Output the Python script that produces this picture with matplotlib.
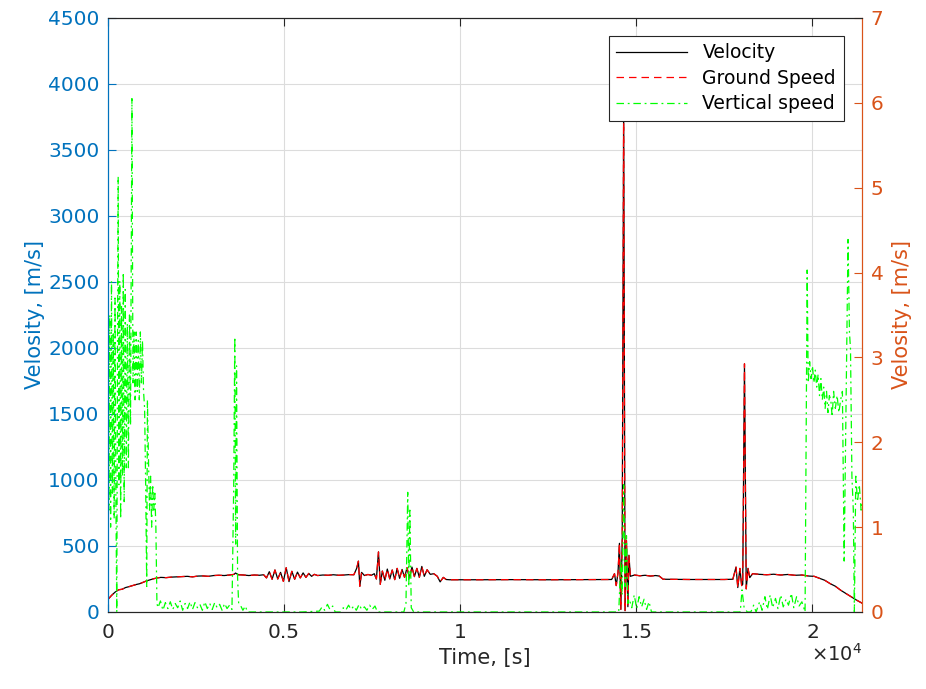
import matplotlib
matplotlib.use("Agg")
import matplotlib.pyplot as plt
from matplotlib.ticker import FuncFormatter

# Velocity / ground speed readings, left axis [m/s]
t_vel = [0, 100, 200, 300, 400, 500, 600, 700, 800, 900, 1000, 1100, 1200, 1300,
         1400, 1500, 1650, 1800, 1950, 2100, 2250, 2400, 2550, 2700, 2850, 3000,
         3150, 3300, 3450, 3580, 3620, 3700, 3850, 4000, 4150, 4300, 4420, 4500,
         4580, 4660, 4740, 4820, 4900, 4980, 5060, 5140, 5220, 5300, 5380, 5460,
         5540, 5620, 5700, 5780, 5860, 5950, 6100, 6250, 6400, 6550, 6700, 6850,
         6980, 7060, 7110, 7150, 7200, 7280, 7380, 7480, 7560, 7620, 7680, 7730,
         7790, 7860, 7930, 8000, 8070, 8140, 8210, 8280, 8350, 8420, 8490, 8560,
         8630, 8700, 8770, 8840, 8910, 8980, 9060, 9150, 9250, 9350, 9430, 9520,
         9600, 9700, 10500, 11500, 12500, 13500, 14300, 14380, 14430, 14480,
         14520, 14560, 14600, 14640, 14680, 14720, 14760, 14790, 14830, 14950,
         15100, 15250, 15400, 15550, 15650, 15760, 16500, 17500, 17740, 17790,
         17830, 17880, 17940, 17990, 18020, 18070, 18120, 18170, 18220, 18300,
         18500, 18700, 18900, 19100, 19300, 19500, 19700, 19900, 20050, 20200,
         20350, 20500, 20650, 20800, 20950, 21100, 21250, 21420]
velocity = [95, 125, 150, 168, 172, 185, 192, 200, 208, 214, 225, 236, 244, 252,
            258, 262, 260, 264, 266, 268, 270, 266, 272, 273, 270, 276,
            278, 276, 280, 285, 295, 282, 280, 276, 280, 278, 282, 258,
            305, 248, 318, 250, 300, 232, 335, 230, 308, 248, 302, 258,
            296, 262, 292, 270, 285, 276, 280, 278, 282, 278, 280, 283,
            282, 330, 385, 195, 300, 276, 284, 278, 290, 250, 455, 210,
            310, 240, 325, 250, 318, 245, 330, 255, 322, 262, 335, 258,
            340, 268, 330, 262, 345, 270, 320, 285, 290, 270, 228, 262,
            246, 244, 244, 245, 244, 245, 246, 290, 200, 300,
            520, 20, 560, 3850, 10, 540, 40, 430, 270, 280,
            274, 278, 272, 276, 272, 248, 246, 246, 248, 300,
            340, 185, 330, 200, 210, 1880, 175, 330, 260, 290,
            285, 282, 286, 280, 284, 278, 280, 272, 270, 255,
            240, 215, 195, 165, 140, 115, 90, 65]
# ground speed coincides with velocity at this scale
ground_speed = list(velocity)

# Vertical speed readings, right axis [m/s]
t_vs = [0, 25, 50, 75, 100, 125, 150, 175, 200, 225, 250, 270, 290, 310, 335,
        360, 385, 410, 435, 460, 490, 520, 550, 580, 610, 640, 680, 710, 740,
        770, 800, 830, 860, 890, 920, 950, 980, 1010, 1040, 1070, 1100, 1120,
        1150, 1180, 1210, 1240, 1270, 1300, 1330, 1360, 1390,
        1420, 1490, 1560, 1630, 1700, 1770, 1840, 1910, 1980, 2050, 2120, 2190,
        2260, 2330, 2400, 2470, 2540, 2610, 2680, 2750, 2820, 2890, 2960, 3030,
        3100, 3170, 3240, 3310, 3380, 3450, 3520,
        3570, 3600, 3625, 3650, 3680, 3710, 3760, 3830, 3900, 3960,
        4500, 5500, 6000, 6080, 6150, 6230, 6300, 6380, 6450, 6600, 6680, 6750,
        6830, 6900, 6980, 7050, 7130, 7200, 7280, 7350, 7430, 7500, 7580, 7650,
        8400, 8460, 8510, 8540, 8570, 8610, 8680,
        14500, 14560, 14600, 14640, 14680, 14720, 14760, 14800, 14870, 14940,
        15010, 15080, 15150, 15220, 15290, 15360, 15430,
        17950, 18000, 18060, 18150, 18250, 18330, 18400, 18500, 18570, 18650,
        18720, 18800, 18870, 18950, 19020, 19100, 19170, 19250, 19320, 19400,
        19470, 19550, 19620, 19700, 19790,
        19850, 19880, 19920, 19960, 20000, 20040, 20080, 20120, 20160, 20200,
        20240, 20280, 20320, 20360, 20400, 20440, 20480, 20520, 20560, 20600,
        20650, 20700, 20750, 20800, 20850, 20900, 21010, 21050, 21080, 21120,
        21160, 21190, 21230, 21280, 21330, 21380, 21420]
vertical_speed = [3.8, 1.2, 3.5, 1.0, 3.9, 1.4, 3.3, 1.1, 3.7, 1.3, 0.0, 3.0, 5.13, 1.5, 3.9,
                  1.1, 3.6, 1.6, 4.0, 1.3, 3.8, 1.7, 3.4, 1.7, 3.5, 2.2, 6.05, 2.7, 3.3,
                  2.5, 3.3, 2.6, 3.2, 2.5, 3.3, 2.7, 3.2, 2.6, 2.4, 1.5, 0.3, 2.5,
                  1.8, 1.2, 1.6, 1.0, 1.5, 1.2, 1.4, 1.0, 0.1,
                  0.05, 0.13, 0.02, 0.11, 0.04, 0.12, 0.03, 0.10, 0.05, 0.13, 0.02, 0.10,
                  0.04, 0.12, 0.03, 0.11, 0.05, 0.09, 0.02, 0.12, 0.04, 0.10, 0.03, 0.11,
                  0.05, 0.09, 0.02, 0.10, 0.04, 0.08, 0.03,
                  1.5, 3.24, 0.8, 2.9, 0.4, 0.1, 0.08, 0.02, 0.07, 0.0,
                  0.0, 0.0, 0.01, 0.06, 0.02, 0.09, 0.03, 0.07, 0.0, 0.0, 0.05, 0.02,
                  0.08, 0.03, 0.07, 0.02, 0.09, 0.03, 0.06, 0.02, 0.08, 0.03, 0.07, 0.0,
                  0.0, 0.1, 1.41, 0.3, 1.2, 0.05, 0.0,
                  0.0, 0.6, 0.2, 1.5, 0.3, 0.9, 0.1, 0.15, 0.05, 0.2,
                  0.04, 0.18, 0.06, 0.15, 0.03, 0.12, 0.0,
                  0.0, 0.26, 0.05, 0.0, 0.0, 0.08, 0.0, 0.12, 0.02, 0.18,
                  0.03, 0.2, 0.05, 0.16, 0.04, 0.2, 0.06, 0.15, 0.08, 0.22,
                  0.05, 0.18, 0.07, 0.12, 0.0,
                  4.03, 2.7, 2.95, 2.75, 2.9, 2.7, 2.85, 2.65, 2.8, 2.55,
                  2.75, 2.5, 2.65, 2.4, 2.6, 2.35, 2.55, 2.5, 2.3, 2.6,
                  2.4, 2.55, 2.35, 2.5, 2.6, 0.6, 4.39, 3.3, 3.1, 1.6,
                  1.2, 0.0, 1.6, 1.3, 1.5, 1.2, 1.3]

blue = "#0072BD"
orange = "#D95319"
dark = "#262626"

fig = plt.figure(figsize=(9.26, 6.89), dpi=100)
ax = fig.add_axes([0.1166, 0.1118, 0.8148, 0.8621])
ax2 = ax.twinx()

l1, = ax.plot(t_vel, velocity, color="black", linewidth=0.9, label="Velocity")
l2, = ax.plot(t_vel, ground_speed, color="red", linewidth=0.9, linestyle=(0, (6, 4)),
              label="Ground Speed")
l3, = ax2.plot(t_vs, vertical_speed, color="#00FF00", linewidth=0.9,
               linestyle=(0, (6, 3, 1.5, 3)), label="Vertical speed")

ax.set_xlim(0, 21420)
ax.set_ylim(0, 4500)
ax2.set_ylim(0, 7)
ax.set_xticks([0, 5000, 10000, 15000, 20000])
ax.set_yticks(range(0, 4501, 500))
ax2.set_yticks(range(0, 8))
ax.xaxis.set_major_formatter(FuncFormatter(lambda v, p: "%g" % (v / 1e4)))

ax.grid(True, color="#dcdcdc", linewidth=0.8)
ax.set_axisbelow(True)

ax.tick_params(axis="x", direction="in", length=6, top=True, colors=dark,
               labelsize=14.5, pad=8)
ax.tick_params(axis="y", direction="in", length=6, colors=blue, labelsize=14.5, pad=6)
ax2.tick_params(axis="y", direction="in", length=6, colors=orange, labelsize=14.5, pad=6)

for a in (ax, ax2):
    a.spines["top"].set_color(dark)
    a.spines["bottom"].set_color(dark)
    a.spines["left"].set_color(blue)
    a.spines["right"].set_color(orange)
    for s in a.spines.values():
        s.set_linewidth(0.8)

ax.set_xlabel("Time, [s]", fontsize=15, color=dark, labelpad=4)
ax.set_ylabel("Velosity, [m/s]", fontsize=15, color=blue, labelpad=2)
ax2.set_ylabel("Velosity, [m/s]", fontsize=15, color=orange, labelpad=6)

ax.text(1.0, -0.052, r"$\times10^4$", transform=ax.transAxes, ha="right", va="top",
        fontsize=14, color=dark)

leg = ax2.legend(handles=[l1, l2, l3], loc="upper right", bbox_to_anchor=(0.975, 0.970),
                 borderaxespad=0, fontsize=13.5, fancybox=False, framealpha=1,
                 edgecolor=dark, handlelength=3.8, labelspacing=0.35)
leg.get_frame().set_linewidth(0.8)

fig.savefig("out.png", dpi=100)
